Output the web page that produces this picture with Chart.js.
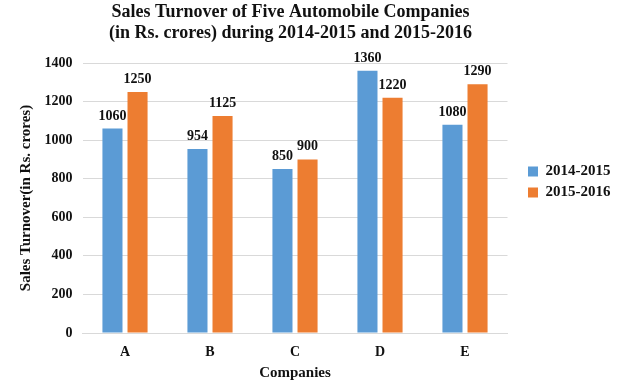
<!DOCTYPE html>
<html>
<head>
<meta charset="utf-8">
<script src="https://cdn.jsdelivr.net/npm/chart.js@4.4.0/dist/chart.umd.min.js"></script>
<style>
  html, body { margin: 0; padding: 0; background: #fff; }
</style>
</head>
<body>
<canvas id="grafico" width="617" height="386"></canvas>
<script>
// Datos del gráfico
const empresas = ['A', 'B', 'C', 'D', 'E'];
const ventas2014 = [1060, 954, 850, 1360, 1080];
const ventas2015 = [1250, 1125, 900, 1220, 1290];
const serieNombres = ['2014-2015', '2015-2016'];

const AZUL = '#5b9bd5';
const NARANJA = '#ed7d31';
const TEXTO = '#111';
const FUENTE = "'Liberation Serif', 'Times New Roman', serif";

// Etiquetas encima de cada barra
const etiquetasPlugin = {
    id: 'etiquetas',
    afterDatasetsDraw(chart) {
        const ctx = chart.ctx;
        ctx.save();
        ctx.font = 'bold 14px ' + FUENTE;
        ctx.fillStyle = TEXTO;
        ctx.textAlign = 'center';
        ctx.textBaseline = 'alphabetic';
        chart.data.datasets.forEach((ds, i) => {
            chart.getDatasetMeta(i).data.forEach((bar, j) => {
                ctx.fillText(ds.data[j], bar.x, bar.y - 9);
            });
        });
        ctx.restore();
    }
};

// Leyenda a la derecha del gráfico
const leyendaPlugin = {
    id: 'leyendaPos',
    beforeInit(chart) {
        const lg = chart.legend;
        const fitOriginal = lg.fit;
        lg.fit = function () {
            fitOriginal.call(this);
            this.width = 73.5;
        };
    },
    afterLayout(chart) {
        const lg = chart.legend;
        lg.left = 522;
        lg.right = 617;
        lg.top = 158;
        lg.bottom = 230;
    }
};

const ctx = document.getElementById('grafico').getContext('2d');
new Chart(ctx, {
    type: 'bar',
    data: {
        labels: empresas,
        datasets: [
            { label: serieNombres[0], data: ventas2014, backgroundColor: AZUL },
            { label: serieNombres[1], data: ventas2015, backgroundColor: NARANJA }
        ]
    },
    options: {
        responsive: false,
        animation: false,
        maintainAspectRatio: false,
        layout: { padding: { top: 2, left: 0, right: 36, bottom: 4 } },
        datasets: {
            bar: { categoryPercentage: 0.59, barPercentage: 0.8 }
        },
        plugins: {
            title: {
                display: true,
                text: ['Sales Turnover of Five Automobile Companies', '(in Rs. crores) during 2014-2015 and 2015-2016'],
                color: TEXTO,
                font: { family: FUENTE, size: 18, weight: 'bold', lineHeight: 1.15 },
                padding: { top: 0, bottom: 19.6 }
            },
            legend: {
                position: 'right',
                align: 'start',
                labels: {
                    boxWidth: 10,
                    boxHeight: 10,
                    padding: 6,
                    color: TEXTO,
                    font: { family: FUENTE, size: 15, weight: 'bold' }
                }
            },
            tooltip: { enabled: false }
        },
        scales: {
            x: {
                afterFit(scale) { scale.height = 49; },
                grid: { display: false, drawTicks: false },
                border: { color: '#d9d9d9' },
                ticks: { color: TEXTO, padding: 10.6, font: { family: FUENTE, size: 14, weight: 'bold' } },
                title: {
                    display: true,
                    text: 'Companies',
                    color: TEXTO,
                    font: { family: FUENTE, size: 15, weight: 'bold' },
                    padding: { top: 3.6, bottom: 0 }
                }
            },
            y: {
                min: 0,
                max: 1400,
                afterFit(scale) { scale.width = 82.5; },
                ticks: {
                    stepSize: 200,
                    color: TEXTO,
                    padding: 10,
                    font: { family: FUENTE, size: 14, weight: 'bold' },
                    callback: (v) => String(v)
                },
                grid: { color: '#d9d9d9', drawTicks: false },
                border: { display: false },
                title: {
                    display: true,
                    text: 'Sales Turnover(in Rs. crores)',
                    color: TEXTO,
                    font: { family: FUENTE, size: 15, weight: 'bold' },
                    padding: { top: 17, bottom: 0 }
                }
            }
        }
    },
    plugins: [etiquetasPlugin, leyendaPlugin]
});
</script>
</body>
</html>
